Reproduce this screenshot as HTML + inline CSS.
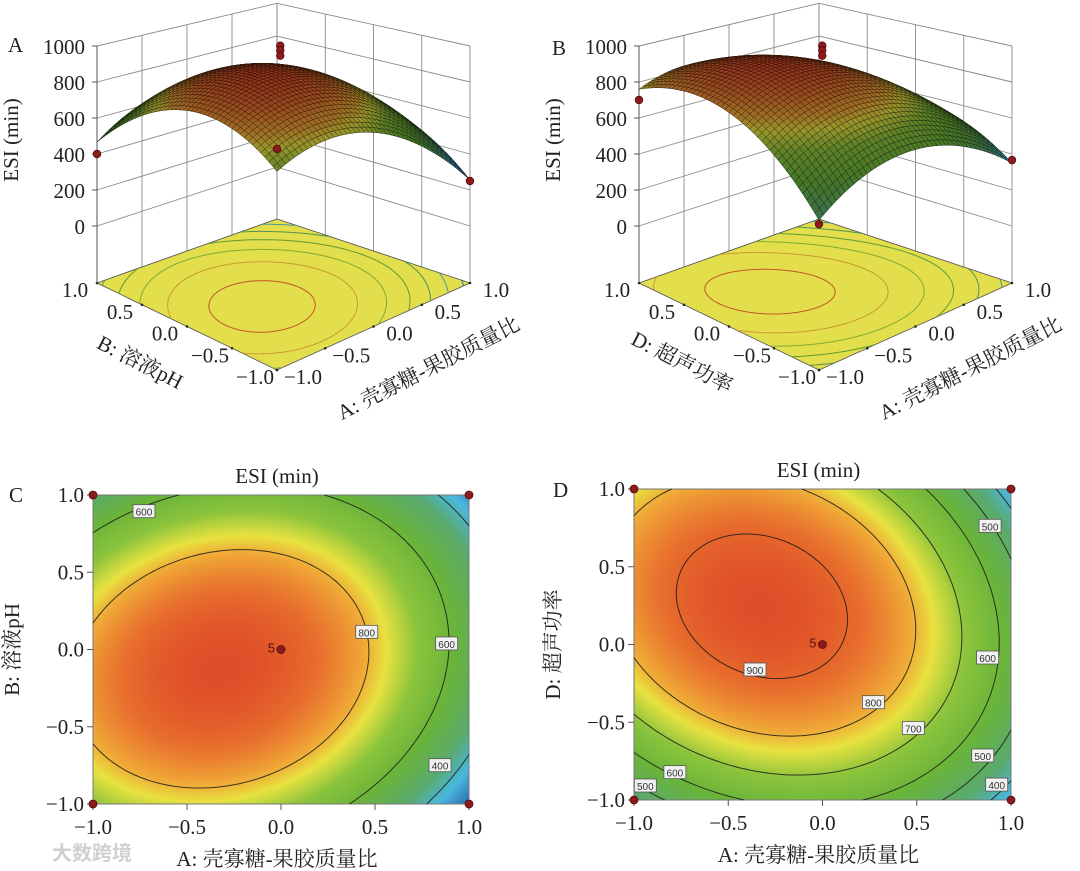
<!DOCTYPE html>
<html><head><meta charset="utf-8">
<style>
body{margin:0;width:1080px;height:871px;background:#fff;position:relative;overflow:hidden;font-family:"Liberation Serif","Noto Serif CJK SC",serif}
canvas,svg{position:absolute}
</style></head>
<body>
<canvas id="hmC" width="376" height="309" style="left:93px;top:495px"></canvas>
<canvas id="hmD" width="377" height="311" style="left:634px;top:489px"></canvas>
<svg id="svg" width="1080" height="871" style="left:0;top:0" xmlns="http://www.w3.org/2000/svg"></svg>
<script>
// Response-surface model coefficients: [b0, A, B, AB, A^2, B^2]
const coefC=[920,-145,-40,70,-239,-250];
const coefD=[915,-125,80,-80,-225,-215];
const levelsC=[400,600,800];
const levelsD=[400,500,600,700,800,900];
const floorLevels=[300,400,500,600,700,800,900];
const zTicks=[0,200,400,600,800,1000];
const axTicks=[-1,-0.5,0,0.5,1];
const tickLabels=['−1.0','−0.5','0.0','0.5','1.0'];
const zTickLabels=['0','200','400','600','800','1000'];
const designA=[[-1,1,400],[1,-1,250],[-1,-1,800],[0,0,1030],[0,0,1005],[0,0,975]];
const designB=[[-1,1,700],[1,-1,366],[-1,-1,420],[0,0,1030],[0,0,1005],[0,0,975]];
const designFlat=[[-1,1],[1,1],[-1,-1],[1,-1],[0,0]];
const labelsC=[[-0.729,0.892,'600'],[0.456,0.111,'800'],[0.881,0.036,'600'],[0.846,-0.752,'400']];
const labelsD=[[0.889,0.76,'500'],[0.876,-0.087,'600'],[-0.358,-0.164,'900'],[0.27,-0.374,'800'],[0.482,-0.54,'700'],[0.85,-0.717,'500'],[0.924,-0.904,'400'],[-0.783,-0.824,'600'],[-0.94,-0.91,'500']];
const VMIN=220,VMAX=955;

const NS="http://www.w3.org/2000/svg";
const svg=document.getElementById('svg');
function el(tag,attrs,parent,txt){const e=document.createElementNS(NS,tag);for(const k in attrs)e.setAttribute(k,attrs[k]);if(txt!==undefined)e.textContent=txt;(parent||svg).appendChild(e);return e;}
function model(c,x,y){return c[0]+c[1]*x+c[2]*y+c[3]*x*y+c[4]*x*x+c[5]*y*y;}
const stops=[[0,[29,79,154]],[0.2,[74,184,224]],[0.33,[90,170,110]],[0.5,[106,180,58]],[0.64,[140,196,60]],[0.74,[232,226,64]],[0.8,[240,170,55]],[0.9,[232,112,45]],[1,[222,72,40]]];
function cmap(v){let t=(v-VMIN)/(VMAX-VMIN);t=Math.max(0,Math.min(1,t));for(let i=1;i<stops.length;i++){if(t<=stops[i][0]){const a=stops[i-1],b=stops[i];const f=(t-a[0])/(b[0]-a[0]);return a[1].map((c,k)=>Math.round(c+(b[1][k]-c)*f));}}return stops[stops.length-1][1];}
function rgb(c,m){m=m||1;return 'rgb('+c.map(x=>Math.round(x*m)).join(',')+')';}
function contour(coef,level,N){const segs=[];const g=i=>-1+2*i/N;
 for(let i=0;i<N;i++)for(let j=0;j<N;j++){const x0=g(i),x1=g(i+1),y0=g(j),y1=g(j+1);
  const c=[[x0,y0],[x1,y0],[x1,y1],[x0,y1]];const v=c.map(p=>model(coef,p[0],p[1])-level);const pts=[];
  for(let k=0;k<4;k++){const a=k,b=(k+1)%4;if((v[a]<0)!==(v[b]<0)){const f=v[a]/(v[a]-v[b]);pts.push([c[a][0]+(c[b][0]-c[a][0])*f,c[a][1]+(c[b][1]-c[a][1])*f]);}}
  if(pts.length>=2)segs.push([pts[0],pts[1]]);if(pts.length===4)segs.push([pts[2],pts[3]]);}
 return segs;}

// ---------- heatmaps ----------
function heatmap(id,coef,X0,Y0,W,H,levels,labels,name,title,yTitle){
 const cv=document.getElementById(id),ctx=cv.getContext('2d'),img=ctx.createImageData(W,H);
 for(let py=0;py<H;py++)for(let px=0;px<W;px++){const a=-1+2*(px+0.5)/W,b=1-2*(py+0.5)/H;const c=cmap(model(coef,a,b));const o=(py*W+px)*4;img.data[o]=c[0];img.data[o+1]=c[1];img.data[o+2]=c[2];img.data[o+3]=255;}
 ctx.putImageData(img,0,0);
 const sx=a=>X0+(a+1)/2*W, sy=b=>Y0+(1-b)/2*H;
 const g=el('g',{});
 el('rect',{x:X0,y:Y0,width:W,height:H,fill:'none',stroke:'#777','stroke-width':1},g);
 levels.forEach(L=>{let d='';contour(coef,L,90).forEach(s=>{d+='M'+sx(s[0][0]).toFixed(1)+' '+sy(s[0][1]).toFixed(1)+'L'+sx(s[1][0]).toFixed(1)+' '+sy(s[1][1]).toFixed(1);});
  const p=el('path',{d:d,stroke:'#1a1a1a','stroke-width':1,fill:'none','stroke-opacity':0.85},g);
  });
 labels.forEach(l=>{const x=sx(l[0]),y=sy(l[1]);const lg=el('g',{},g);
  
  el('rect',{x:x-11,y:y-7,width:22,height:13,fill:'#f2f2f2',stroke:'#555','stroke-width':0.8},lg);
  el('text',{x:x,y:y+4,'font-family':'Liberation Sans, sans-serif','font-size':10,fill:'#333','text-anchor':'middle'},lg,l[2]);});
 axTicks.forEach((t,i)=>{
  el('line',{x1:sx(t),x2:sx(t),y1:Y0+H,y2:Y0+H+6,stroke:'#555'},g);
  const tx=el('text',{x:sx(t),y:Y0+H+30,'font-size':21,'text-anchor':'middle',fill:'#222'},g,tickLabels[i]);
  
  el('line',{x1:X0-6,x2:X0,y1:sy(t),y2:sy(t),stroke:'#555'},g);
  const ty=el('text',{x:X0-9,y:sy(t)+7,'font-size':21,'text-anchor':'end',fill:'#222'},g,tickLabels[i]);
  });
 designFlat.forEach(p=>{const c=el('circle',{cx:sx(p[0]),cy:sy(p[1]),r:4,fill:'#8b1c1c',stroke:'#5a0a0a','stroke-width':0.8},g);});
 el('text',{x:sx(0)-6,y:sy(0)+3,'font-size':13,'text-anchor':'end',fill:'#5a1010','font-family':'Liberation Sans, sans-serif'},g,'5');
 const tt=el('text',{x:X0+W/2-4,y:Y0-12,'font-size':21,'text-anchor':'middle',fill:'#222'},g,'ESI (min)');
 
 const xt=el('text',{x:X0+W/2-4,y:Y0+H+62,'font-size':21,'text-anchor':'middle',fill:'#222'},g,'A: 壳寡糖-果胶质量比');
 
 const cyy=Y0+H/2;const yt=el('text',{x:X0-74,y:cyy,'font-size':21,'text-anchor':'middle',fill:'#222',transform:'rotate(-90 '+(X0-74)+' '+cyy+')'},g,yTitle);
 
}
heatmap('hmC',coefC,93,495,376,309,levelsC,labelsC,'contour-plot-c','ESI (min)','B: 溶液pH');
heatmap('hmD',coefD,634,489,377,311,levelsD,labelsD,'contour-plot-d','ESI (min)','D: 超声功率');

// ---------- 3D surfaces ----------
function make3D(dx,coef,design,name,bTitle){
 const F=[277+dx,370],L=[97+dx,283],R=[470+dx,283],Bk=[277+dx,219];const sF=1.1,sL=1,sR=1,sB=0.91;
 const hz=z=>57+0.18*z;
 const P=(a,b,h)=>{const u=(a+1)/2,v=(b+1)/2;const w=[(1-u)*(1-v),u*(1-v),(1-u)*v,u*v];
  const x=F[0]*w[0]+R[0]*w[1]+L[0]*w[2]+Bk[0]*w[3];const y=F[1]*w[0]+R[1]*w[1]+L[1]*w[2]+Bk[1]*w[3];
  const s=sF*w[0]+sR*w[1]+sL*w[2]+sB*w[3];return [x,y-s*h];};
 const g=el('g',{});
 const top=hz(1000);const gs={stroke:'#8a8a8a','stroke-width':0.9,fill:'none'};
 const line=(p,q,st)=>el('line',Object.assign({x1:p[0],y1:p[1],x2:q[0],y2:q[1]},st||gs),g);
 axTicks.forEach(t=>{line(P(t,1,0),P(t,1,top));line(P(1,t,0),P(1,t,top));});
 [0].concat(zTicks.map(hz)).forEach(h=>{line(P(-1,1,h),P(1,1,h));line(P(1,1,h),P(1,-1,h));});
 const fl=[P(-1,-1,0),P(1,-1,0),P(1,1,0),P(-1,1,0)];
 const floor=el('polygon',{points:fl.map(p=>p.join(',')).join(' '),fill:'#e2de4c',stroke:'#555','stroke-width':0.8},g);
 
 floorLevels.forEach(Lv=>{let d='';contour(coef,Lv,60).forEach(s=>{const p=P(s[0][0],s[0][1],0),q=P(s[1][0],s[1][1],0);d+='M'+p[0].toFixed(1)+' '+p[1].toFixed(1)+'L'+q[0].toFixed(1)+' '+q[1].toFixed(1);});
  const c=cmap(Lv);el('path',{d:d,fill:'none',stroke:rgb(c,0.85),'stroke-width':1},g);});
 axTicks.forEach((t,i)=>{
  const pb=P(-1,t,0);el('circle',{cx:pb[0],cy:pb[1],r:1.3,fill:'#222'},g);
  const lb=el('text',{x:pb[0]-22,y:pb[1]+14,'font-size':21,'text-anchor':'middle',fill:'#222'},g,tickLabels[i]);
  
  const pa=P(t,-1,0);el('circle',{cx:pa[0],cy:pa[1],r:1.3,fill:'#222'},g);
  const la=el('text',{x:pa[0]+26,y:pa[1]+14,'font-size':21,'text-anchor':'middle',fill:'#222'},g,tickLabels[i]);
  });
 zTicks.forEach((z,i)=>{const p=P(-1,1,hz(z));line([p[0]-5,p[1]],p,{stroke:'#555'});
  const t=el('text',{x:p[0]-12,y:p[1]+8,'font-size':21,'text-anchor':'end',fill:'#222'},g,zTickLabels[i]);
  });
 line(P(-1,1,0),P(-1,1,top),{stroke:'#555'});
 const N=44,quads=[];const gg=i=>-1+2*i/N;
 for(let i=0;i<N;i++)for(let j=0;j<N;j++){const a0=gg(i),a1=gg(i+1),b0=gg(j),b1=gg(j+1);
  const v=model(coef,(a0+a1)/2,(b0+b1)/2);quads.push({d:a0+a1+b0+b1,v:v,pts:[[a0,b0],[a1,b0],[a1,b1],[a0,b1]]});}
 quads.sort((p,q)=>q.d-p.d);
 const sg=el('g',{},g);
 quads.forEach(q=>{const pts=q.pts.map(p=>P(p[0],p[1],hz(model(coef,p[0],p[1]))));const c=cmap(q.v);
  el('polygon',{points:pts.map(p=>p[0].toFixed(1)+','+p[1].toFixed(1)).join(' '),fill:rgb(c,0.66),stroke:rgb(c,0.22),'stroke-width':0.5},sg);});
 design.forEach(d=>{const p=P(d[0],d[1],hz(d[2]));const c=el('circle',{cx:p[0],cy:p[1],r:3.8,fill:'#8b1c1c',stroke:'#5a0a0a','stroke-width':0.8},g);
  });
 const pb=P(-1,0,0);const bt=el('text',{x:pb[0]-50,y:pb[1]+42,'font-size':21,'text-anchor':'middle',fill:'#222',transform:'rotate(27 '+(pb[0]-50)+' '+(pb[1]+42)+')'},g,bTitle);
 
 const pa=P(0,-1,0);const at=el('text',{x:pa[0]+58,y:pa[1]+48,'font-size':21,'text-anchor':'middle',fill:'#222',transform:'rotate(-27 '+(pa[0]+58)+' '+(pa[1]+48)+')'},g,'A: 壳寡糖-果胶质量比');
 
 const zx=18+dx,zy=140;const zt=el('text',{x:zx,y:zy,'font-size':21,'text-anchor':'middle',fill:'#222',transform:'rotate(-90 '+zx+' '+zy+')'},g,'ESI (min)');
 
}
make3D(0,coefC,designA,'surface-plot-a','B: 溶液pH');
make3D(542,coefD,designB,'surface-plot-b','D: 超声功率');

[['A',8,52],['B',552,55],['C',9,502],['D',553,497]].forEach(l=>{const t=el('text',{x:l[1],y:l[2],'font-size':21,fill:'#222'},svg,l[0]);
 });
const wm=el('text',{x:52,y:860,'font-size':20,fill:'#d0d0d0','font-family':'Liberation Sans, Noto Sans CJK SC, sans-serif','font-weight':'bold'},svg,'大数跨境');

</script>
</body></html>
